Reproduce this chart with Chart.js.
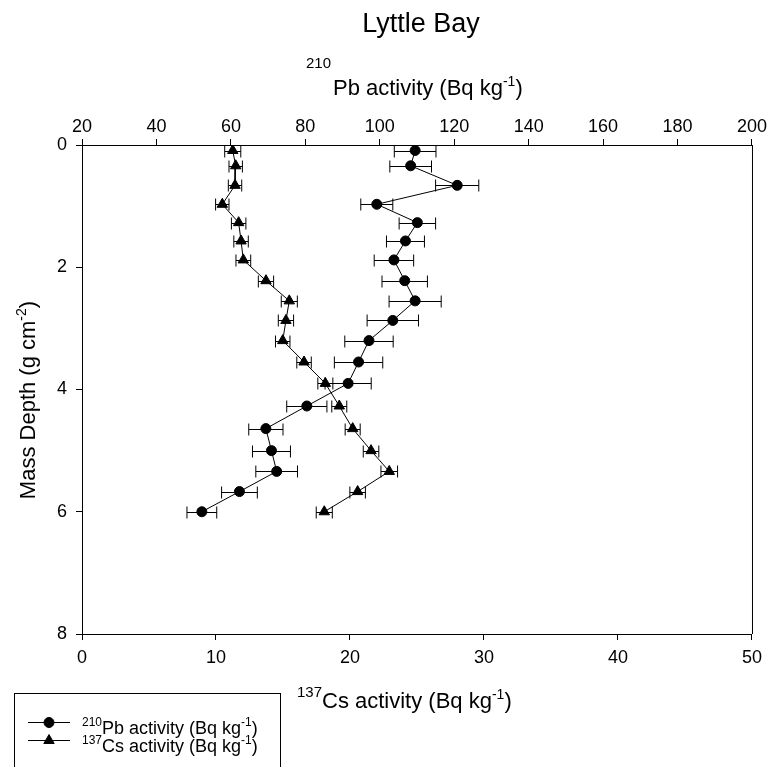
<!DOCTYPE html>
<html>
<head>
<meta charset="utf-8">
<title>Lyttle Bay</title>
<script src="https://cdn.jsdelivr.net/npm/chart.js@4.4.1/dist/chart.umd.min.js"></script>
<style>
  html, body { margin: 0; padding: 0; background: #fff; }
  canvas { display: block; }
</style>
</head>
<body>
<canvas id="grafico" width="769" height="767"></canvas>
<script>
// profundidade em massa (g cm-2)
const depths = [0.09, 0.34, 0.66, 0.97, 1.27, 1.57, 1.88, 2.22, 2.55, 2.87, 3.20, 3.55, 3.90, 4.27, 4.64, 5.00, 5.34, 5.67, 6.00];
// 210Pb (Bq kg-1)
const pbValues = [109.5, 108.3, 120.8, 99.2, 110.1, 106.9, 103.8, 106.7, 109.5, 103.5, 97.1, 94.3, 91.5, 80.4, 69.4, 70.9, 72.3, 62.3, 52.2];
const pbErrors = [5.6, 5.6, 5.8, 4.3, 4.9, 5.1, 5.3, 6.1, 7.0, 6.9, 6.5, 6.5, 6.2, 5.4, 4.6, 5.1, 5.6, 4.8, 4.0];
// 137Cs (Bq kg-1)
const csValues = [11.25, 11.47, 11.42, 10.47, 11.69, 11.87, 12.04, 13.73, 15.47, 15.22, 14.98, 16.57, 18.16, 19.2, 20.2, 21.57, 22.93, 20.57, 18.08];
const csErrors = [0.6, 0.5, 0.5, 0.5, 0.54, 0.54, 0.55, 0.57, 0.6, 0.57, 0.54, 0.54, 0.56, 0.56, 0.56, 0.58, 0.62, 0.58, 0.6];

const depthTicks = [0, 2, 4, 6, 8];
const pbTicks = [20, 40, 60, 80, 100, 120, 140, 160, 180, 200];
const csTicks = [0, 10, 20, 30, 40, 50];

const FONT = '"Liberation Sans", Arial, sans-serif';

Chart.defaults.color = "#000";
Chart.defaults.font.family = FONT;

function pontos(valores) {
    return valores.map((v, i) => ({ x: v, y: depths[i] }));
}

// escreve pedacos [texto, tamanho, dy] um depois do outro a partir de x
function escreve(ctx, partes, x, y) {
    partes.forEach(p => {
        ctx.font = p[1] + "px " + FONT;
        ctx.fillText(p[0], x, y + (p[2] || 0));
        x += ctx.measureText(p[0]).width;
    });
}

function largura(ctx, partes) {
    let w = 0;
    partes.forEach(p => { ctx.font = p[1] + "px " + FONT; w += ctx.measureText(p[0]).width; });
    return w;
}

const barrasErro = {
    id: "barrasErro",
    beforeDatasetsDraw(chart) {
        const ctx = chart.ctx;
        const ys = chart.scales.y;
        ctx.save();
        ctx.strokeStyle = "#000";
        ctx.lineWidth = 1;
        chart.data.datasets.forEach(ds => {
            const xs = chart.scales[ds.xAxisID];
            ds.data.forEach((p, j) => {
                const e = ds.erros[j];
                const x0 = xs.getPixelForValue(p.x - e);
                const x1 = xs.getPixelForValue(p.x + e);
                const y = Math.round(ys.getPixelForValue(p.y)) + 0.5;
                ctx.beginPath();
                ctx.moveTo(x0, y); ctx.lineTo(x1, y);
                ctx.moveTo(x0, y - 6); ctx.lineTo(x0, y + 6);
                ctx.moveTo(x1, y - 6); ctx.lineTo(x1, y + 6);
                ctx.stroke();
            });
        });
        ctx.restore();
    }
};

const textos = {
    id: "textos",
    afterDraw(chart) {
        const ctx = chart.ctx;
        const a = chart.chartArea;
        ctx.save();
        ctx.strokeStyle = "#000";
        ctx.lineWidth = 1;
        ctx.beginPath();
        ctx.moveTo(a.right + 0.5, a.top);
        ctx.lineTo(a.right + 0.5, a.bottom);
        ctx.stroke();

        ctx.fillStyle = "#000";
        ctx.textBaseline = "alphabetic";
        ctx.textAlign = "center";
        ctx.font = "27px " + FONT;
        ctx.fillText("Lyttle Bay", 421, 32);

        ctx.textAlign = "right";
        ctx.font = "15px " + FONT;
        ctx.fillText("210", 331, 68);
        ctx.fillText("137", 322, 697);
        ctx.textAlign = "left";
        escreve(ctx, [["Pb activity (Bq kg", 22], ["-1", 14, -9], [")", 22]], 333, 95);
        escreve(ctx, [["Cs activity (Bq kg", 22], ["-1", 14, -9], [")", 22]], 322, 708);

        // titulo do eixo y
        ctx.save();
        ctx.translate(35, 400);
        ctx.rotate(-Math.PI / 2);
        const partesY = [["Mass Depth (g cm", 22], ["-2", 14, -9], [")", 22]];
        escreve(ctx, partesY, -largura(ctx, partesY) / 2, 0);
        ctx.restore();

        // legenda
        ctx.strokeRect(14.5, 693.5, 266, 90);
        const itens = [
            { ds: chart.data.datasets[0], y: 722, sup: "210", txt: "Pb activity (Bq kg", ty: 734 },
            { ds: chart.data.datasets[1], y: 740, sup: "137", txt: "Cs activity (Bq kg", ty: 752 }
        ];
        itens.forEach(it => {
            ctx.beginPath();
            ctx.moveTo(28, it.y + 0.5);
            ctx.lineTo(70, it.y + 0.5);
            ctx.stroke();
            ctx.fillStyle = "#000";
            Chart.helpers.drawPoint(ctx, {
                pointStyle: it.ds.pointStyle,
                radius: it.ds.pointRadius,
                rotation: 0,
                borderWidth: 1
            }, 49, it.y + 0.5);
            ctx.fillStyle = "#000";
            escreve(ctx, [[it.sup, 12, -8], [it.txt, 18], ["-1", 12, -8], [")", 18]], 82, it.ty);
        });
        ctx.restore();
    }
};

const ctx = document.getElementById("grafico").getContext("2d");

new Chart(ctx, {
    type: "scatter",
    data: {
        datasets: [
            {
                label: "210Pb activity (Bq kg-1)",
                data: pontos(pbValues),
                erros: pbErrors,
                xAxisID: "xTop",
                yAxisID: "y",
                showLine: true,
                borderColor: "#000",
                backgroundColor: "#000",
                borderWidth: 1,
                pointStyle: "circle",
                pointRadius: 5,
                pointBorderWidth: 1
            },
            {
                label: "137Cs activity (Bq kg-1)",
                data: pontos(csValues),
                erros: csErrors,
                xAxisID: "x",
                yAxisID: "y",
                showLine: true,
                borderColor: "#000",
                backgroundColor: "#000",
                borderWidth: 1,
                pointStyle: "triangle",
                pointRadius: 6,
                pointBorderWidth: 1
            }
        ]
    },
    options: {
        responsive: false,
        animation: false,
        layout: { padding: { left: 0, right: 17, top: 0, bottom: 0 } },
        plugins: {
            legend: { display: false },
            title: { display: false },
            tooltip: { enabled: false }
        },
        scales: {
            y: {
                type: "linear",
                position: "left",
                reverse: true,
                min: 0,
                max: 8,
                afterBuildTicks: s => { s.ticks = depthTicks.map(v => ({ value: v })); },
                afterFit: s => { s.width = 82; },
                ticks: { font: { size: 18 }, color: "#000", padding: 9 },
                grid: { drawOnChartArea: false, tickLength: 6, color: "#000" },
                border: { display: true, color: "#000", width: 1 }
            },
            xTop: {
                type: "linear",
                position: "top",
                min: 20,
                max: 200,
                afterBuildTicks: s => { s.ticks = pbTicks.map(v => ({ value: v })); },
                afterFit: s => { s.height = 145; },
                ticks: { font: { size: 18 }, color: "#000", padding: 1, maxRotation: 0 },
                grid: { drawOnChartArea: false, tickLength: 6, color: "#000" },
                border: { display: true, color: "#000", width: 1 }
            },
            x: {
                type: "linear",
                position: "bottom",
                min: 0,
                max: 50,
                afterBuildTicks: s => { s.ticks = csTicks.map(v => ({ value: v })); },
                afterFit: s => { s.height = 133; },
                ticks: { font: { size: 18 }, color: "#000", padding: 7, maxRotation: 0 },
                grid: { drawOnChartArea: false, tickLength: 6, color: "#000" },
                border: { display: true, color: "#000", width: 1 }
            }
        }
    },
    plugins: [barrasErro, textos]
});
</script>
</body>
</html>
